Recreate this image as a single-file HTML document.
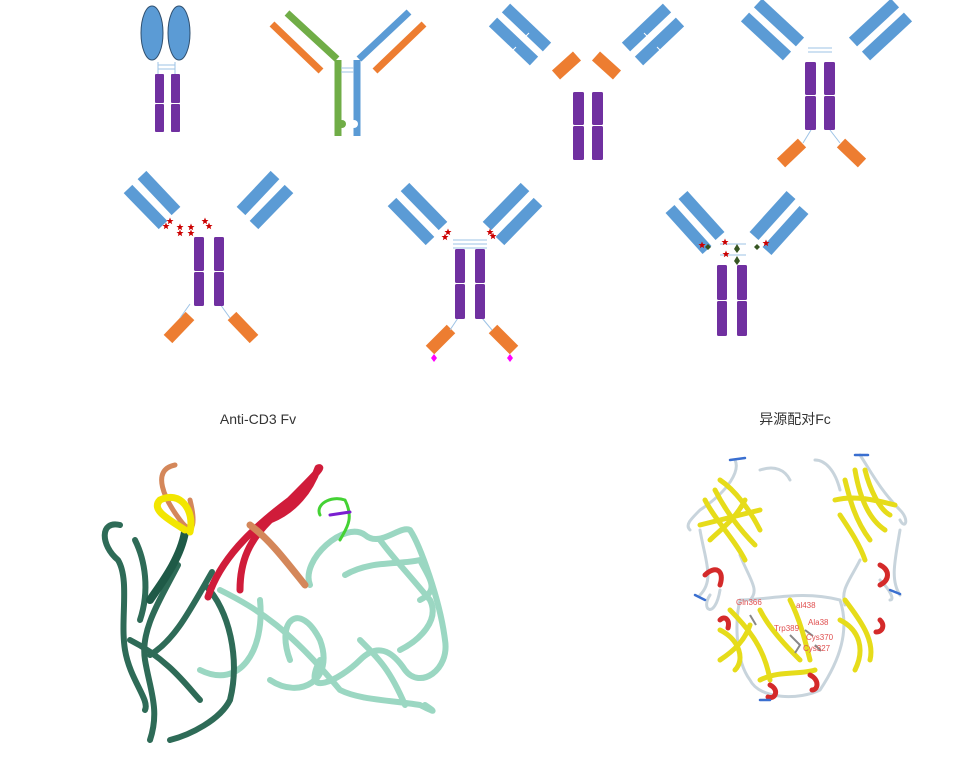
<!DOCTYPE html>
<html><head><meta charset="utf-8"><style>
html,body{margin:0;padding:0;background:#fff;}
svg{display:block}
text{font-family:"Liberation Sans","Noto Sans CJK SC",sans-serif;}
</style></head><body>
<svg width="969" height="759" viewBox="0 0 969 759" xmlns="http://www.w3.org/2000/svg">
<defs>
<g id="star"><polygon points="0,-3.5 1,-1 3.5,-1 1.5,0.7 2.2,3.3 0,1.8 -2.2,3.3 -1.5,0.7 -3.5,-1 -1,-1" fill="#c00"/></g>
</defs>
<g stroke-linecap="butt">
<!-- Antibody 1 -->
<ellipse cx="152" cy="33" rx="11" ry="27" fill="#5b9bd5" stroke="#2f4f6f" stroke-width="1"/>
<ellipse cx="179" cy="33" rx="11" ry="27" fill="#5b9bd5" stroke="#2f4f6f" stroke-width="1"/>
<path d="M158 62 V74 M175 62 V74 M158 65 H175 M158 69 H175" stroke="#9dc3e6" stroke-width="1" fill="none"/>
<rect x="155" y="74" width="9" height="29" rx="1" fill="#7030a0"/><rect x="155" y="104" width="9" height="28" rx="1" fill="#7030a0"/>
<rect x="171" y="74" width="9" height="29" rx="1" fill="#7030a0"/><rect x="171" y="104" width="9" height="28" rx="1" fill="#7030a0"/>

<!-- Antibody 2 -->
<line x1="287" y1="13" x2="337" y2="59" stroke="#70ad47" stroke-width="7"/>
<line x1="272" y1="24" x2="321" y2="71" stroke="#ed7d31" stroke-width="7"/>
<line x1="338" y1="60" x2="338" y2="136" stroke="#70ad47" stroke-width="7"/>
<line x1="357" y1="60" x2="357" y2="136" stroke="#5b9bd5" stroke-width="7"/>
<line x1="409" y1="12" x2="359" y2="59" stroke="#5b9bd5" stroke-width="7"/>
<line x1="424" y1="24" x2="375" y2="71" stroke="#ed7d31" stroke-width="7"/>
<circle cx="342" cy="124" r="4" fill="#70ad47"/><circle cx="354" cy="124" r="4" fill="#fff"/>
<path d="M341 68 H354 M341 72 H354" stroke="#9dc3e6" stroke-width="1"/>

<!-- Antibody 3 -->
<g stroke-width="12">
<line x1="506" y1="8" x2="547" y2="47" stroke="#5b9bd5"/>
<line x1="493" y1="22" x2="534" y2="61" stroke="#5b9bd5"/>
<line x1="556" y1="75" x2="577" y2="56" stroke="#ed7d31"/>
<line x1="667" y1="8" x2="626" y2="47" stroke="#5b9bd5"/>
<line x1="680" y1="22" x2="639" y2="61" stroke="#5b9bd5"/>
<line x1="617" y1="75" x2="596" y2="56" stroke="#ed7d31"/>
</g>
<path d="M529 33 l-6 6 M516 47 l-6 6 M644 33 l6 6 M657 47 l6 6" stroke="#fff" stroke-width="1"/>
<rect x="573" y="92" width="11" height="33" rx="1.5" fill="#7030a0"/><rect x="573" y="126" width="11" height="34" rx="1.5" fill="#7030a0"/>
<rect x="592" y="92" width="11" height="33" rx="1.5" fill="#7030a0"/><rect x="592" y="126" width="11" height="34" rx="1.5" fill="#7030a0"/>

<!-- Antibody 4 -->
<g stroke-width="12">
<line x1="758" y1="3" x2="800" y2="42" stroke="#5b9bd5"/>
<line x1="745" y1="17" x2="787" y2="56" stroke="#5b9bd5"/>
<line x1="895" y1="3" x2="853" y2="42" stroke="#5b9bd5"/>
<line x1="908" y1="17" x2="866" y2="56" stroke="#5b9bd5"/>
<line x1="781" y1="163" x2="802" y2="143" stroke="#ed7d31"/>
<line x1="862" y1="163" x2="841" y2="143" stroke="#ed7d31"/>
</g>
<path d="M808 48 H832 M808 52 H832 M811 130 L803 143 M830 130 L840 143" stroke="#9dc3e6" stroke-width="1"/>
<rect x="805" y="62" width="11" height="33" rx="1.5" fill="#7030a0"/><rect x="805" y="96" width="11" height="34" rx="1.5" fill="#7030a0"/>
<rect x="824" y="62" width="11" height="33" rx="1.5" fill="#7030a0"/><rect x="824" y="96" width="11" height="34" rx="1.5" fill="#7030a0"/>

<!-- Row2 A -->
<g stroke-width="12">
<line x1="142" y1="175" x2="176" y2="211" stroke="#5b9bd5"/>
<line x1="128" y1="189" x2="163" y2="225" stroke="#5b9bd5"/>
<line x1="275" y1="175" x2="241" y2="211" stroke="#5b9bd5"/>
<line x1="289" y1="189" x2="254" y2="225" stroke="#5b9bd5"/>
<line x1="168" y1="339" x2="190" y2="316" stroke="#ed7d31"/>
<line x1="254" y1="339" x2="232" y2="316" stroke="#ed7d31"/>
</g>
<path d="M190 304 L180 318 M220 304 L230 318" stroke="#9dc3e6" stroke-width="1"/>
<rect x="194" y="237" width="10" height="34" rx="1.5" fill="#7030a0"/><rect x="194" y="272" width="10" height="34" rx="1.5" fill="#7030a0"/>
<rect x="214" y="237" width="10" height="34" rx="1.5" fill="#7030a0"/><rect x="214" y="272" width="10" height="34" rx="1.5" fill="#7030a0"/>
<use href="#star" x="166" y="226"/><use href="#star" x="170" y="221"/><use href="#star" x="180" y="227"/><use href="#star" x="180" y="233"/>
<use href="#star" x="191" y="227"/><use href="#star" x="191" y="233"/><use href="#star" x="205" y="221"/><use href="#star" x="209" y="226"/>

<!-- Row2 B -->
<g stroke-width="12">
<line x1="405" y1="187" x2="443" y2="226" stroke="#5b9bd5"/>
<line x1="392" y1="202" x2="430" y2="241" stroke="#5b9bd5"/>
<line x1="525" y1="187" x2="487" y2="226" stroke="#5b9bd5"/>
<line x1="538" y1="202" x2="500" y2="241" stroke="#5b9bd5"/>
<line x1="430" y1="350" x2="451" y2="329" stroke="#ed7d31"/>
<line x1="514" y1="350" x2="493" y2="329" stroke="#ed7d31"/>
</g>
<path d="M453 240 H487 M453 244 H487 M453 248 H487 M458 318 L450 330 M482 318 L492 330" stroke="#9dc3e6" stroke-width="1"/>
<rect x="455" y="249" width="10" height="34" rx="1.5" fill="#7030a0"/><rect x="455" y="284" width="10" height="35" rx="1.5" fill="#7030a0"/>
<rect x="475" y="249" width="10" height="34" rx="1.5" fill="#7030a0"/><rect x="475" y="284" width="10" height="35" rx="1.5" fill="#7030a0"/>
<use href="#star" x="445" y="237"/><use href="#star" x="448" y="232"/><use href="#star" x="490" y="232"/><use href="#star" x="493" y="236"/>
<polygon points="434,354 437,358 434,362 431,358" fill="#f0f"/><polygon points="510,354 513,358 510,362 507,358" fill="#f0f"/>

<!-- Row2 C -->
<g stroke-width="12">
<line x1="683" y1="195" x2="720" y2="236" stroke="#5b9bd5"/>
<line x1="670" y1="209" x2="707" y2="250" stroke="#5b9bd5"/>
<line x1="791" y1="195" x2="754" y2="236" stroke="#5b9bd5"/>
<line x1="804" y1="210" x2="767" y2="251" stroke="#5b9bd5"/>
</g>
<path d="M720 244 H746 M720 255 H746" stroke="#9dc3e6" stroke-width="1"/>
<rect x="717" y="265" width="10" height="35" rx="1.5" fill="#7030a0"/><rect x="717" y="301" width="10" height="35" rx="1.5" fill="#7030a0"/>
<rect x="737" y="265" width="10" height="35" rx="1.5" fill="#7030a0"/><rect x="737" y="301" width="10" height="35" rx="1.5" fill="#7030a0"/>
<use href="#star" x="702" y="245"/><use href="#star" x="725" y="242"/><use href="#star" x="726" y="254"/><use href="#star" x="766" y="243"/>
<polygon points="708,244 711,247 708,250 705,247" fill="#375623"/><polygon points="737,244 740,249 737,253 734,249" fill="#375623"/><polygon points="737,256 740,261 737,265 734,261" fill="#375623"/><polygon points="757,244 760,247 757,250 754,247" fill="#375623"/>
</g>

<text x="258" y="424" font-size="14" fill="#333" text-anchor="middle">Anti-CD3 Fv</text>
<text x="795" y="424" font-size="14" fill="#333" text-anchor="middle">异源配对Fc</text>

<!-- Left protein -->
<g fill="none" stroke-linecap="round" stroke-linejoin="round">
<g stroke="#9bd7c2" stroke-width="6">
<path d="M310 585 C300 560 345 520 365 535 C380 548 400 525 410 530 C420 545 440 600 445 640 C450 670 420 690 405 670 C395 655 380 640 360 660 C340 680 300 700 320 660"/>
<path d="M290 660 C275 620 300 600 320 640 C335 680 300 700 270 680"/>
<path d="M220 590 C260 610 290 630 340 690 C360 700 390 700 420 705 C430 710 440 715 425 705"/>
<path d="M345 575 C370 560 400 565 420 560 C430 580 440 590 420 600"/>
<path d="M260 600 C265 650 240 690 200 670"/>
<path d="M380 540 C395 560 405 570 430 600 C440 620 420 640 400 650"/>
<path d="M360 640 C380 660 390 670 405 705"/>
</g>
<g stroke="#2e6b57" stroke-width="6">
<path d="M178 565 C160 600 140 630 145 660 C150 690 160 710 150 740"/>
<path d="M120 525 C100 520 100 545 118 560 C130 580 120 620 125 650 C130 680 150 700 145 710"/>
<path d="M212 572 C190 610 175 640 150 655"/>
<path d="M205 585 C230 610 240 660 230 700 C220 720 190 735 170 740"/>
<path d="M130 640 C170 660 190 690 200 700"/>
<path d="M135 540 C145 560 150 590 140 620"/>
</g>
<path d="M185 532 C180 560 160 585 150 600" stroke="#1f5a47" stroke-width="8"/>
<path d="M175 465 C150 470 165 500 180 520 C195 540 195 520 190 500" stroke="#d4875a" stroke-width="5"/>
<path d="M190 532 C195 510 180 490 160 500 C150 510 170 520 185 530" stroke="#f2e600" stroke-width="7"/>
<path d="M208 597 C220 560 250 530 290 500 C310 480 325 465 318 468 C310 490 295 510 270 520 C250 540 240 560 240 590" stroke="#d01c3a" stroke-width="7"/>
<path d="M250 525 C270 540 285 560 305 585" stroke="#d4875a" stroke-width="7"/>
<path d="M320 515 C315 505 330 495 345 500 C355 520 345 530 340 540" stroke="#44d234" stroke-width="3"/>
<path d="M330 515 L350 512" stroke="#7a1fd0" stroke-width="3"/>
</g>

<!-- Right protein -->
<g fill="none" stroke-linecap="round" stroke-linejoin="round">
<g stroke="#c8d4dc" stroke-width="3">
<path d="M735 460 C740 470 730 490 700 510 C690 520 685 525 690 530 M760 470 C775 465 785 470 790 480 M740 555 C750 580 760 590 750 600 M710 595 C700 610 715 620 720 590"/>
<path d="M815 460 C825 460 835 470 840 490 M860 455 C870 470 880 490 900 510 C910 520 905 530 900 520 M860 560 C850 580 840 590 845 605 M880 580 C890 590 895 600 890 600"/>
<path d="M740 600 C770 600 800 590 840 600 C850 630 840 660 820 690 C800 700 760 700 750 680 C735 660 735 620 740 600"/>
<path d="M700 530 C705 560 715 580 700 595 M900 530 C895 560 890 580 900 595"/>
</g>
<g stroke="#e6dc1a" stroke-width="5">
<path d="M705 500 C715 520 735 540 745 560 M715 490 C725 510 740 530 755 545 M720 480 C735 490 750 510 760 530 M700 525 C720 520 740 515 760 510 M710 540 C720 530 735 520 745 500"/>
<path d="M845 480 C850 500 855 520 870 540 M855 470 C860 500 870 520 885 530 M835 500 C855 495 875 500 895 505 M840 515 C850 530 860 545 865 560 M865 470 C870 490 880 510 890 515"/>
<path d="M720 630 C740 640 745 660 735 670 M730 610 C750 630 765 650 770 680 M760 610 C770 630 790 650 800 660 M790 600 C800 620 805 640 810 660 M840 620 C860 630 865 650 855 670 M845 600 C860 620 875 640 870 660 M760 680 C780 670 800 675 815 670 M720 660 C735 650 745 640 750 625"/>
</g>
<g stroke="#d42a2a" stroke-width="5">
<path d="M705 575 C715 565 725 570 720 585"/>
<path d="M880 565 C890 570 890 580 880 585"/>
<path d="M770 685 C780 690 775 700 768 697 M810 675 C820 680 818 690 812 690"/>
<path d="M720 620 C725 615 730 620 728 628 M880 620 C885 625 883 632 876 632"/>
</g>
<g stroke="#3a6fd0" stroke-width="2.5">
<path d="M730 460 L745 458 M695 595 L705 600 M855 455 L868 455 M890 590 L900 594 M760 700 L770 700"/>
</g>
</g>
<g stroke="#888" stroke-width="2" fill="none"><path d="M790 635 l10 10 l-5 8 M805 630 l8 6 M750 615 l6 10 M815 645 l6 6"/></g>
<g font-size="8" fill="#e05050">
<text x="736" y="605">Gln366</text><text x="796" y="608">al438</text><text x="774" y="631">Trp389</text><text x="808" y="625">Ala38</text><text x="806" y="640">Cys370</text><text x="803" y="651">Cys327</text>
</g>
</svg>
</body></html>
